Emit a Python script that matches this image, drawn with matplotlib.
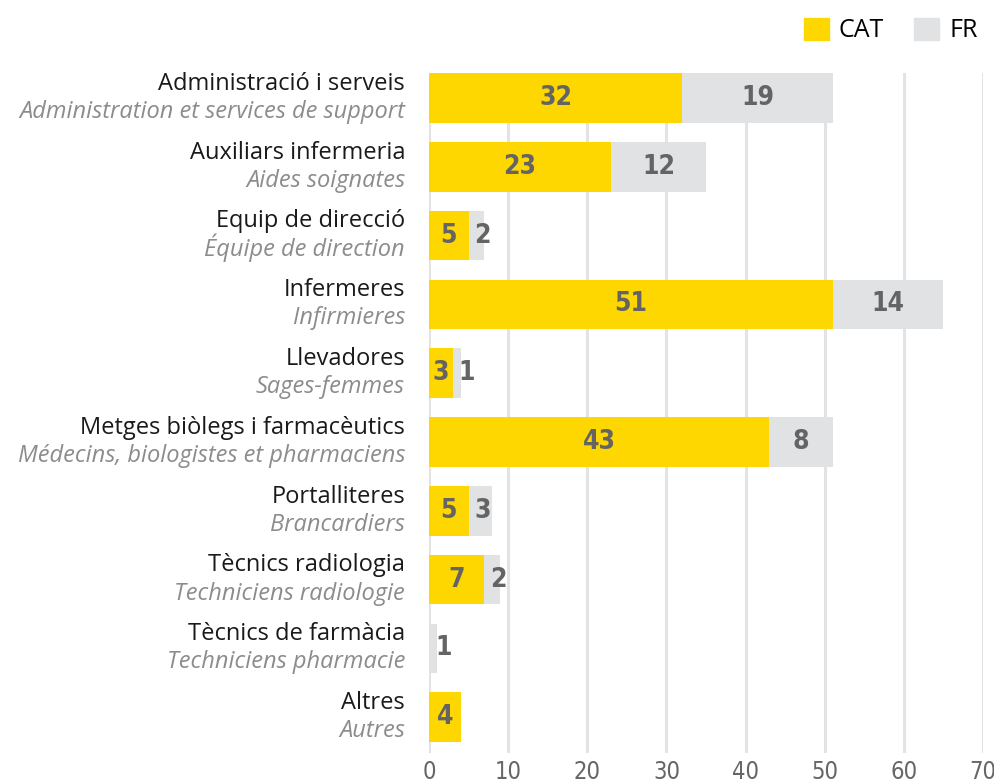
import matplotlib
matplotlib.use("Agg")
import matplotlib.pyplot as plt
from matplotlib.patches import Patch
import numpy as np

# Categories (Catalan / French) and counts per side of the border
labels_cat = ["Administració i serveis", "Auxiliars infermeria", "Equip de direcció",
              "Infermeres", "Llevadores", "Metges biòlegs i farmacèutics",
              "Portalliteres", "Tècnics radiologia", "Tècnics de farmàcia", "Altres"]
labels_fr = ["Administration et services de support", "Aides soignates", "Équipe de direction",
             "Infirmieres", "Sages-femmes", "Médecins, biologistes et pharmaciens",
             "Brancardiers", "Techniciens radiologie", "Techniciens pharmacie", "Autres"]
cat_values = [32, 23, 5, 51, 3, 43, 5, 7, 0, 4]
fr_values = [19, 12, 2, 14, 1, 8, 3, 2, 1, 0]
x_ticks = [0, 10, 20, 30, 40, 50, 60, 70]

YELLOW = "#FFD700"
GREY = "#E1E2E4"
VAL_COLOR = "#646464"

fig = plt.figure(figsize=(9.95, 7.84), dpi=100)
ax = fig.add_axes([429 / 995, 1 - 753 / 784, 554 / 995, 680 / 784])

y = np.arange(len(labels_cat))
cat_arr = np.array(cat_values)
fr_arr = np.array(fr_values)

ax.barh(y, cat_arr, height=0.72, color=YELLOW, zorder=2)
ax.barh(y, fr_arr, left=cat_arr, height=0.72, color=GREY, zorder=2)

val_font = dict(family="DejaVu Sans", stretch="condensed", weight="bold",
                fontsize=19, color=VAL_COLOR)
for i in range(len(y)):
    c, f = cat_arr[i], fr_arr[i]
    if c > 0:
        ax.text(c / 2, y[i], str(c), ha="center", va="center", zorder=3, **val_font)
    if f > 0:
        pos = c + (f / 2 if f >= 4 else 1.8)
        ax.text(pos, y[i], str(f), ha="center", va="center", zorder=3, **val_font)

# category labels, two lines each
tr = ax.get_yaxis_transform()
for i in range(len(y)):
    ax.text(-0.0433, y[i] - 0.12, labels_cat[i], transform=tr, ha="right", va="baseline",
            family="Open Sans", fontsize=17, color="#1a1a1a")
    ax.text(-0.0433, y[i] + 0.29, labels_fr[i], transform=tr, ha="right", va="baseline",
            family="Open Sans", style="italic", fontsize=17, color="#8c8c8c")

ax.set_xlim(0, 70)
ax.set_ylim(9.52, -0.363)
ax.set_xticks(x_ticks)
ax.set_yticks([])
ax.tick_params(axis="x", length=0, pad=5, labelsize=17, labelcolor="#666666")
for lab in ax.get_xticklabels():
    lab.set_family("DejaVu Sans")
    lab.set_stretch("condensed")
ax.grid(axis="x", color="#E3E3E3", linewidth=2.2, zorder=0)
for s in ax.spines.values():
    s.set_visible(False)

handles = [Patch(color=YELLOW, label="CAT"), Patch(color=GREY, label="FR")]
fig.legend(handles=handles, loc="upper right", bbox_to_anchor=(1.0, 1.0), ncol=2,
           frameon=False, prop={"family": "Open Sans", "size": 18},
           handlelength=1.0, handleheight=1.0, handletextpad=0.4, columnspacing=1.2,
           borderaxespad=0.3)

fig.savefig("out.png", dpi=100)
